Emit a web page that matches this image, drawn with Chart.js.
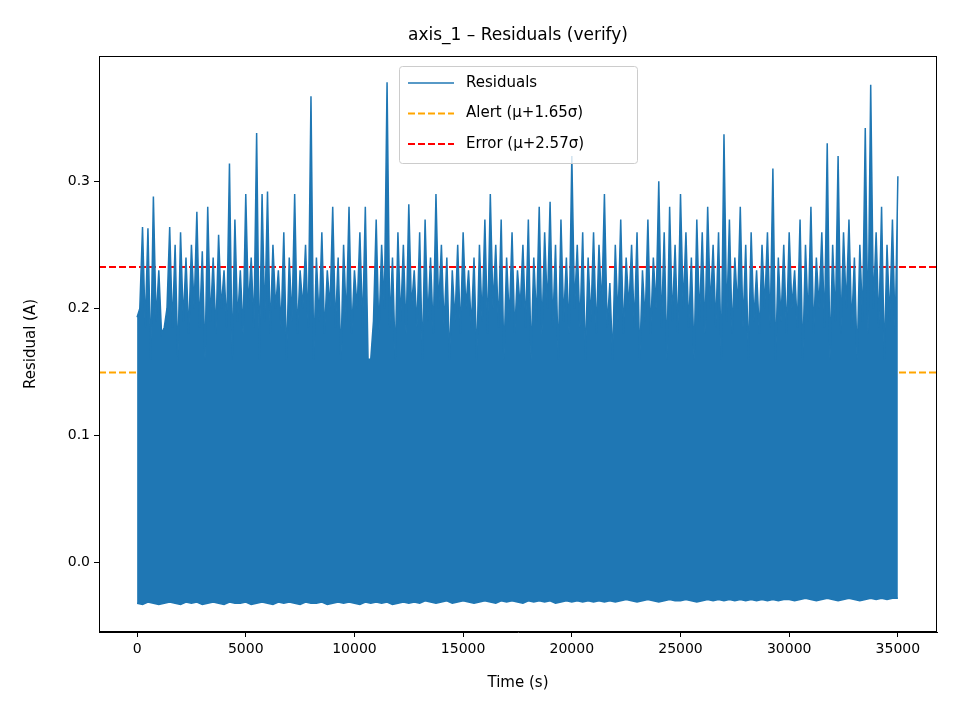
<!DOCTYPE html>
<html><head><meta charset="utf-8">
<script src="https://cdn.jsdelivr.net/npm/chart.js@4.4.0/dist/chart.umd.min.js"></script>
<style>html,body{margin:0;padding:0;background:#fff}#c{display:block}</style>
</head><body>
<div style="width:960px;height:720px"><canvas id="c" width="960" height="720"></canvas></div>
<script>
const titleText = "axis_1 – Residuals (verify)";
const xLabel = "Time (s)";
const yLabel = "Residual (A)";
const stepSeconds = 250;
const peaks = [
.193,.264,.263,.288,.23,.185,.264,.25,.26,.24,
.25,.276,.245,.28,.24,.258,.23,.314,.27,.23,
.29,.24,.338,.29,.292,.25,.23,.26,.24,.29,
.23,.25,.367,.24,.26,.23,.28,.24,.25,.28,
.23,.26,.28,.16,.27,.25,.378,.24,.26,.25,
.282,.23,.26,.27,.24,.29,.25,.24,.23,.25,
.26,.23,.24,.25,.27,.29,.25,.27,.24,.26,
.23,.25,.27,.24,.28,.26,.284,.25,.27,.24,
.32,.25,.26,.24,.26,.25,.29,.22,.25,.27,
.24,.25,.26,.23,.27,.24,.3,.26,.28,.25,
.29,.26,.24,.27,.26,.28,.25,.26,.337,.27,
.24,.28,.25,.26,.23,.25,.26,.31,.24,.25,
.26,.23,.27,.25,.28,.24,.26,.33,.25,.32,
.26,.27,.24,.25,.342,.376,.26,.28,.25,.27,
.304];
const lows = [
-.032,-.033,-.031,-.032,-.033,-.032,-.031,-.032,-.033,-.031,
-.032,-.031,-.033,-.032,-.031,-.032,-.033,-.031,-.032,-.032,
-.031,-.033,-.032,-.031,-.032,-.033,-.031,-.032,-.031,-.032,
-.033,-.031,-.032,-.032,-.031,-.033,-.032,-.031,-.032,-.031,
-.032,-.033,-.031,-.032,-.031,-.032,-.031,-.033,-.032,-.031,
-.032,-.031,-.032,-.030,-.031,-.032,-.031,-.030,-.032,-.031,
-.030,-.031,-.032,-.031,-.030,-.031,-.032,-.030,-.031,-.030,
-.031,-.032,-.030,-.031,-.030,-.031,-.030,-.032,-.031,-.030,
-.031,-.030,-.031,-.030,-.031,-.030,-.031,-.030,-.031,-.030,
-.029,-.030,-.031,-.030,-.029,-.030,-.031,-.030,-.029,-.030,
-.030,-.029,-.030,-.031,-.030,-.029,-.030,-.029,-.030,-.029,
-.030,-.029,-.030,-.029,-.030,-.029,-.030,-.029,-.030,-.029,
-.029,-.030,-.029,-.028,-.029,-.030,-.029,-.028,-.029,-.030,
-.029,-.028,-.029,-.030,-.029,-.028,-.029,-.028,-.029,-.028,
-.028];
const troughs = [0.20, 0.185, 0.16, 0.19, 0.18];
const alertLevel = 0.1495;
const errorLevel = 0.2325;
const xTicks = [0,5000,10000,15000,20000,25000,30000,35000];
const yTicks = [0.0,0.1,0.2,0.3];
const xRange = [-1752, 36800];
const yRange = [-0.0546, 0.3986];

const resid = [];
peaks.forEach((p,i)=>{ resid.push({x:i*stepSeconds, y:p}); if(i<peaks.length-1) resid.push({x:i*stepSeconds+stepSeconds/2, y:troughs[i%troughs.length]}); });
const lowLine = [];
lows.forEach((l,i)=>{ lowLine.push({x:i*stepSeconds, y:l}); });

const F = "'DejaVu Sans', sans-serif";
const framePlugin = {
  id:'frame',
  afterDraw(ch){
    const {ctx, chartArea:a} = ch;
    ctx.save();
    ctx.strokeStyle='#000'; ctx.lineWidth=1;
    ctx.strokeRect(a.left+0.5,a.top+0.5,a.right-a.left-1,a.bottom-a.top-1);
    ctx.fillStyle='#000'; ctx.font="17px "+F; ctx.textAlign='center'; ctx.textBaseline='middle';
    ctx.fillText(titleText,(a.left+a.right)/2,36);
    const items = ch.data.datasets.filter(d=>d.label);
    const bx=399, by=66, bw=238, bh=97;
    ctx.fillStyle='rgba(255,255,255,0.8)'; ctx.strokeStyle='#cccccc';
    ctx.beginPath(); ctx.roundRect(bx+0.5,by+0.5,bw,bh,3); ctx.fill(); ctx.stroke();
    ctx.font="15px "+F; ctx.textAlign='left';
    items.forEach((d,i)=>{
      const yy = by+17+i*30.5;
      ctx.strokeStyle=d.borderColor; ctx.lineWidth=d.borderWidth; ctx.setLineDash(d.borderDash||[]);
      ctx.beginPath(); ctx.moveTo(bx+9,yy); ctx.lineTo(bx+55,yy); ctx.stroke();
      ctx.setLineDash([]);
      ctx.fillStyle='#000'; ctx.fillText(d.label,bx+67,yy);
    });
    ctx.restore();
  }
};
const tickCfg = {color:'#000', font:{family:F,size:14}, padding:4};
new Chart(document.getElementById('c'),{
  type:'line',
  data:{datasets:[
    {label:'Residuals', data:resid, borderColor:'#1f77b4', backgroundColor:'#1f77b4', borderWidth:1.5, pointRadius:0, tension:0, fill:1},
    {label:'', data:lowLine, borderColor:'#1f77b4', borderWidth:1.5, pointRadius:0, tension:0, fill:false},
    {label:'Alert (μ+1.65σ)', data:[{x:xRange[0],y:alertLevel},{x:xRange[1],y:alertLevel}], borderColor:'#ffa500', borderWidth:2, borderDash:[7,3], pointRadius:0},
    {label:'Error (μ+2.57σ)', data:[{x:xRange[0],y:errorLevel},{x:xRange[1],y:errorLevel}], borderColor:'#ff0000', borderWidth:2, borderDash:[7,3], pointRadius:0}
  ]},
  options:{
    responsive:false, animation:false, events:[],
    layout:{padding:{left:18,right:23,top:56,bottom:24}},
    plugins:{legend:{display:false},tooltip:{enabled:false},title:{display:false}},
    scales:{
      x:{type:'linear',min:xRange[0],max:xRange[1],
        afterBuildTicks(s){s.ticks=xTicks.map(v=>({value:v}));},
        afterFit(s){s.height=64;},
        ticks:{...tickCfg,callback:v=>String(v),maxRotation:0,autoSkip:false},
        grid:{drawOnChartArea:false,drawTicks:true,tickLength:5,color:'#000'},
        border:{display:true,color:'#000'},
        title:{display:true,text:xLabel,color:'#000',font:{family:F,size:15},padding:{top:2}}},
      y:{type:'linear',min:yRange[0],max:yRange[1],
        afterBuildTicks(s){s.ticks=yTicks.map(v=>({value:v}));},
        afterFit(s){s.width=81;},
        ticks:{...tickCfg,callback:v=>Number(v).toFixed(1)},
        grid:{drawOnChartArea:false,drawTicks:true,tickLength:5,color:'#000'},
        border:{display:true,color:'#000'},
        title:{display:true,text:yLabel,color:'#000',font:{family:F,size:15},padding:{bottom:6}}}
    }
  },
  plugins:[framePlugin]
});
</script>
</body></html>
